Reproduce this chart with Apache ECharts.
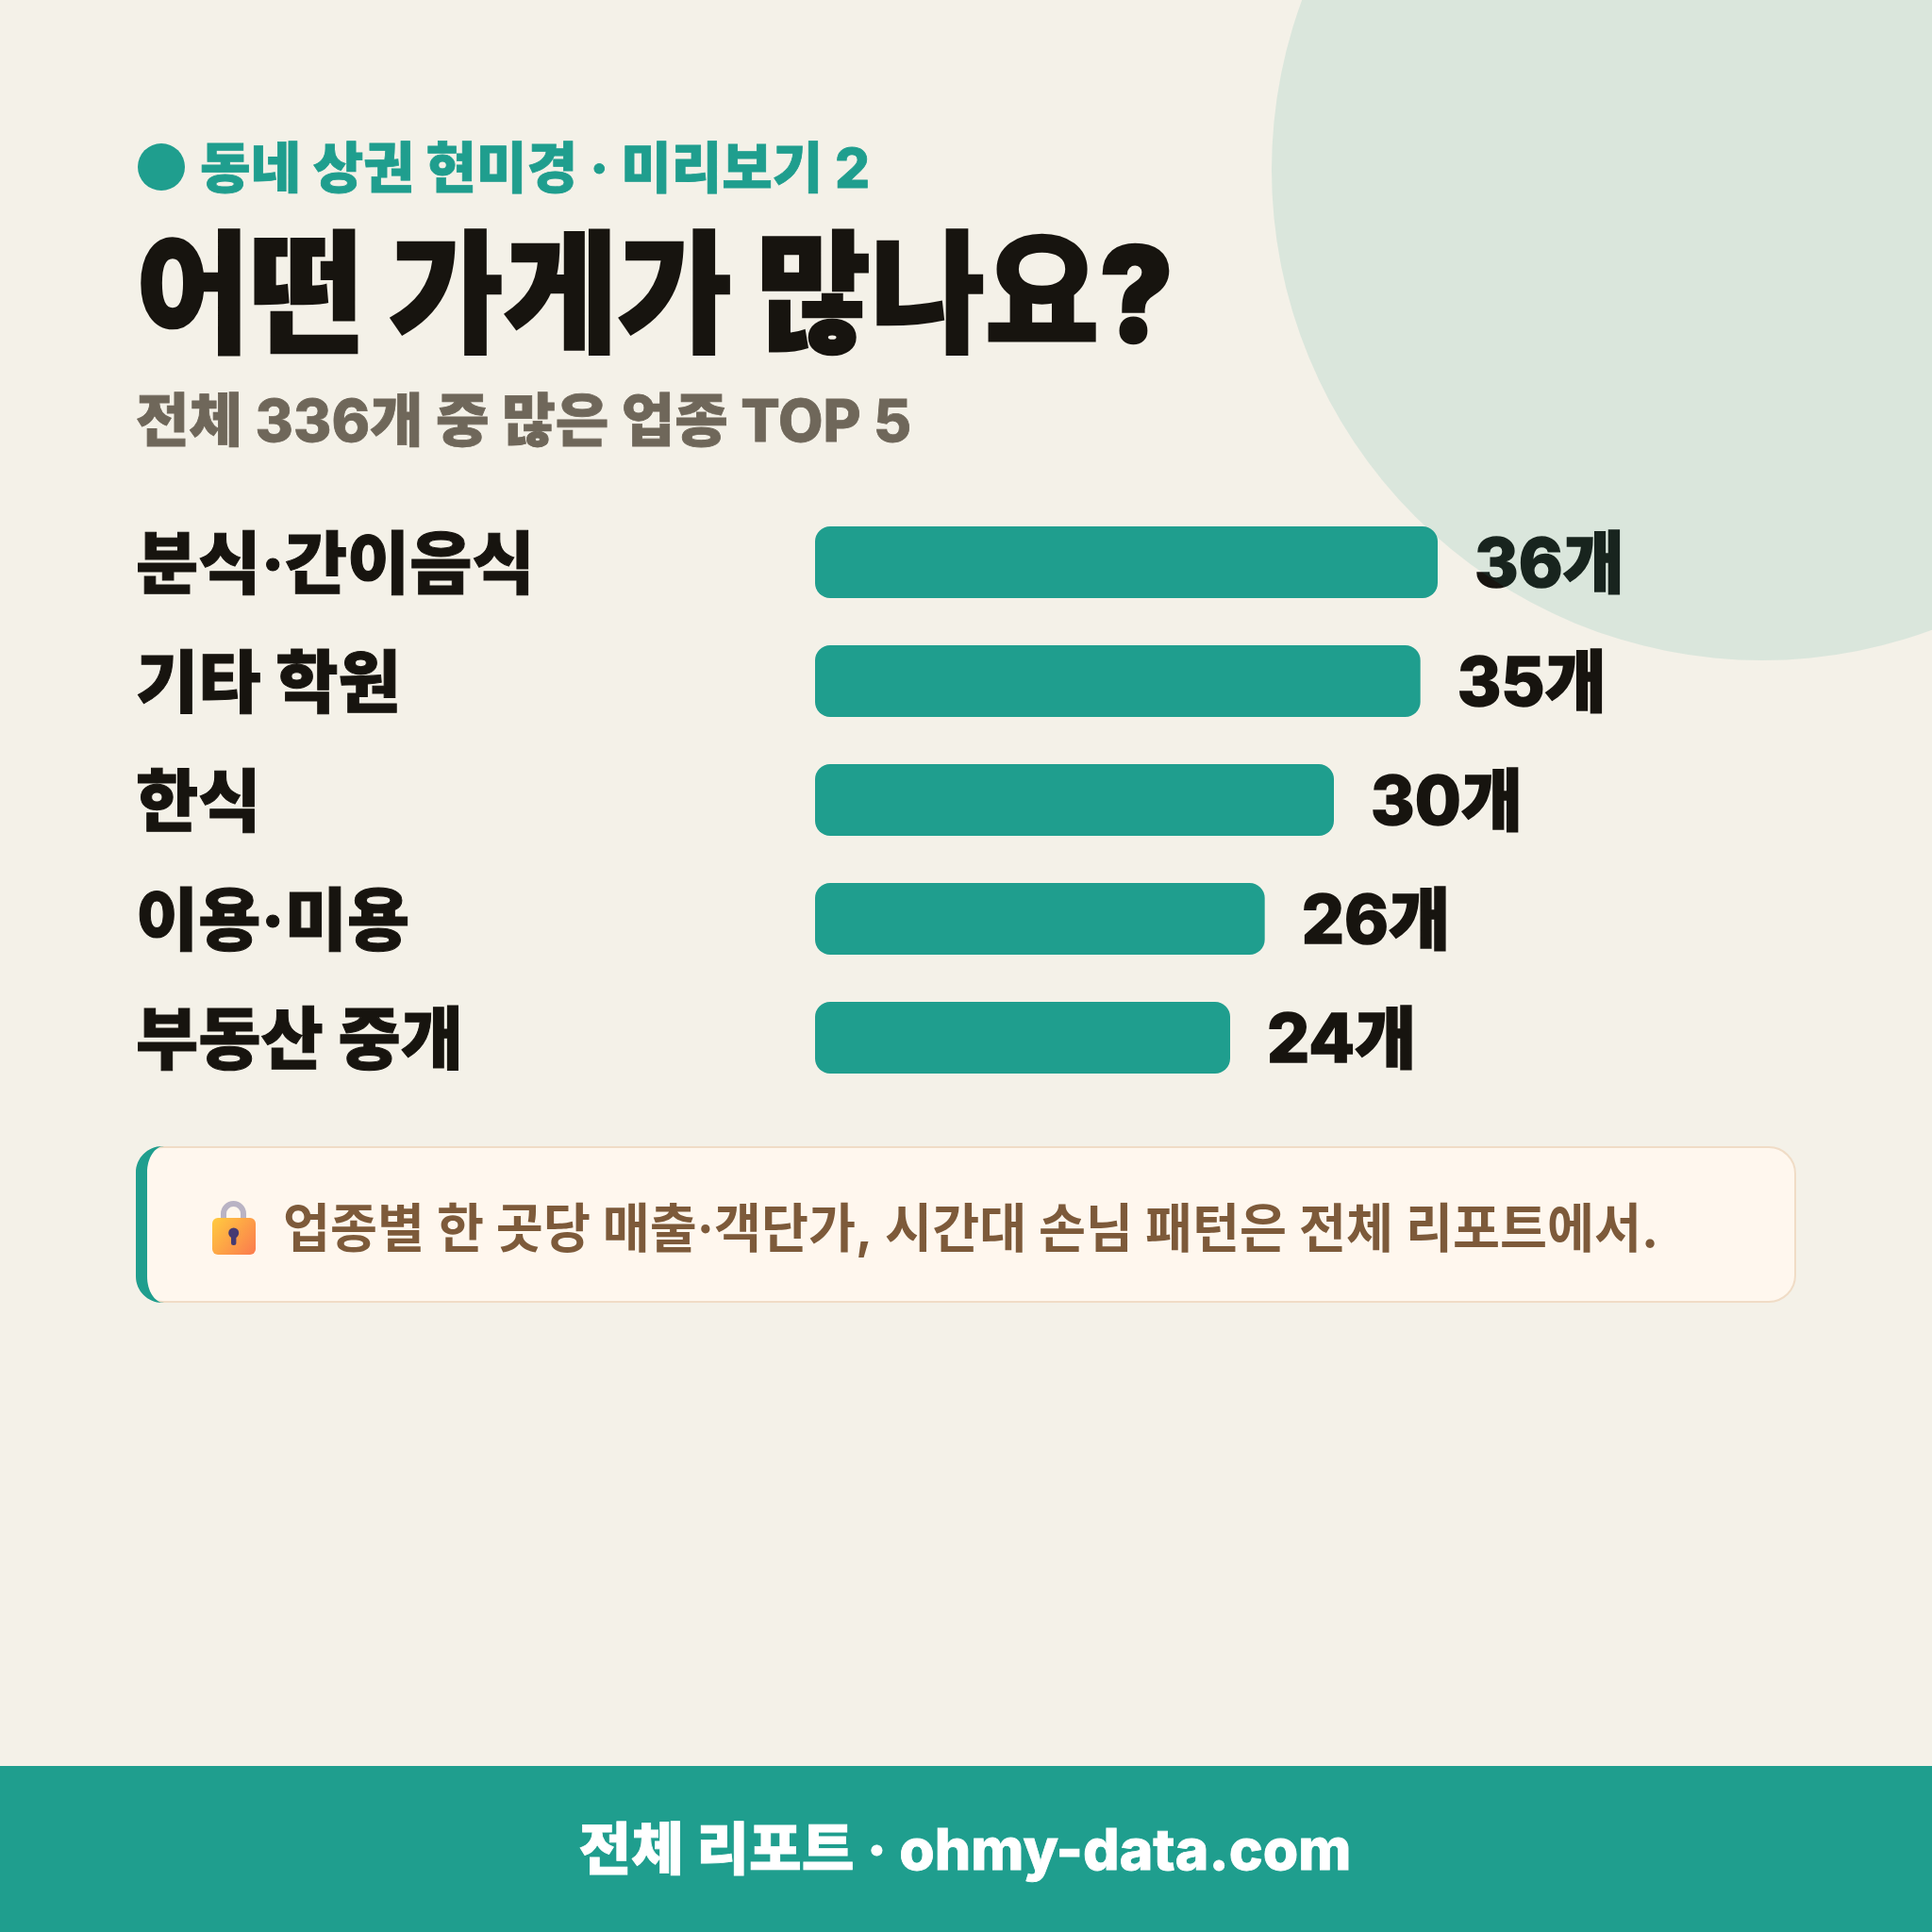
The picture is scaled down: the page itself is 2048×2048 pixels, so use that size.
<!DOCTYPE html>
<html><head><meta charset="utf-8">
<style>html,body{margin:0;padding:0;background:#f4f1e8}#c{width:2048px;height:2048px}</style>
<script src="https://cdn.jsdelivr.net/npm/echarts@6/dist/echarts.min.js"></script>
</head><body><div id="c"></div>
<script>
const categories=['분식·간이음식','기타 학원','한식','이용·미용','부동산 중개'];
const counts=[36,35,30,26,24];
const eyebrow='동네 상권 현미경 · 미리보기 2';
const heading='어떤 가게가 많나요?';
const subheading='전체 336개 중 많은 업종 TOP 5';
const note='업종별 한 곳당 매출·객단가, 시간대 손님 패턴은 전체 리포트에서.';
const footer='전체 리포트 · ohmy-data.com';
const FONT='Inter,"Noto Sans CJK KR",sans-serif';
const teal='#1f9e8e';
const ink='#17140f';
const muted='#6f675a';

// Curved accent along the left edge of the callout card
echarts.graphic.registerShape('cardAccent',echarts.graphic.extendShape({
 shape:{x:144,y:1215,h:166,r:28,inset:12,tip:18},
 buildPath(ctx,s){
  const {x,y,h,r,inset,tip}=s,k=0.5523,b=y+h;
  ctx.moveTo(x+r,y);
  ctx.bezierCurveTo(x+r*(1-k),y,x,y+r*(1-k),x,y+r);
  ctx.lineTo(x,b-r);
  ctx.bezierCurveTo(x,b-r*(1-k),x+r*(1-k),b,x+r,b);
  ctx.lineTo(x+inset+tip,b);
  ctx.bezierCurveTo(x+inset+tip*(1-k),b,x+inset,b-r*(1-k),x+inset,b-r);
  ctx.lineTo(x+inset,y+r);
  ctx.bezierCurveTo(x+inset,y+r*(1-k),x+inset+tip*(1-k),y,x+inset+tip,y);
  ctx.closePath();
 }
}));

const chart=echarts.init(document.getElementById('c'),null,{renderer:'canvas'});
chart.setOption({
 backgroundColor:'#f4f1e8',animation:false,
 grid:{left:864,top:533,width:733.33,height:630,containLabel:false},
 xAxis:{type:'value',min:0,max:40,show:false},
 yAxis:{type:'category',inverse:true,data:categories,axisLine:{show:false},axisTick:{show:false},
  axisLabel:{margin:720,align:'left',formatter:v=>'{name|'+v+'}',
   rich:{name:{color:ink,fontSize:72,fontWeight:800,fontFamily:FONT,padding:[10,0,0,0],textBorderColor:ink,textBorderWidth:1}}}},
 series:[{type:'bar',data:counts,barWidth:76,itemStyle:{color:teal,borderRadius:16},z:3,
  label:{show:true,position:'right',distance:39,offset:[0,5],formatter:p=>p.value+'개',fontSize:71,fontWeight:800,color:ink,fontFamily:FONT,textBorderColor:ink,textBorderWidth:1.5}}],
 graphic:[
  // soft disc laid over the top-right corner, tinting whatever sits beneath it
  {type:'circle',z:100,silent:true,shape:{cx:1868,cy:180,r:520},style:{fill:'rgba(31,158,142,0.12)'}},
  {type:'circle',shape:{cx:171,cy:177,r:25},style:{fill:teal}},
  {type:'text',x:212,y:182,style:{text:eyebrow,fill:teal,stroke:teal,lineWidth:0.8,font:'800 58.2px '+FONT,verticalAlign:'middle'}},
  {type:'text',x:144,y:320,scaleX:0.94,style:{text:heading,fill:ink,stroke:ink,lineWidth:2.5,font:'900 140px '+FONT,verticalAlign:'middle'}},
  {type:'text',x:144,y:450,style:{text:subheading,fill:muted,stroke:muted,lineWidth:0.8,font:'800 61.5px '+FONT,verticalAlign:'middle'}},
  {type:'rect',shape:{x:145,y:1216,width:1758,height:164,r:28},style:{fill:'#fff7ee',stroke:'#f0dcc6',lineWidth:2}},
  {type:'cardAccent',style:{fill:teal}},
  // padlock icon
  {type:'arc',shape:{cx:247.5,cy:1286.5,r:10.5,startAngle:Math.PI,endAngle:0,clockwise:true},style:{fill:'none',stroke:'#b9b3c4',lineWidth:6}},
  {type:'rect',shape:{x:234,y:1286,width:6,height:7},style:{fill:'#b9b3c4'}},
  {type:'rect',shape:{x:255,y:1286,width:6,height:7},style:{fill:'#b9b3c4'}},
  {type:'rect',shape:{x:225,y:1291,width:46,height:39,r:6},style:{fill:new echarts.graphic.LinearGradient(0,0,1,1,[{offset:0,color:'#ffcb3f'},{offset:1,color:'#fb7a4e'}])}},
  {type:'circle',shape:{cx:247.7,cy:1307,r:5.5},style:{fill:'#463a72'}},
  {type:'rect',shape:{x:245,y:1308,width:5.4,height:12,r:2.5},style:{fill:'#463a72'}},
  {type:'text',x:300,y:1305,scaleX:0.971,style:{text:note,fill:'#7d5a3a',font:'700 56px '+FONT,verticalAlign:'middle'}},
  {type:'rect',shape:{x:0,y:1872,width:2048,height:176},style:{fill:teal}},
  {type:'text',x:1023,y:1964,style:{text:footer,fill:'#fff',stroke:'#fff',lineWidth:0.8,font:'800 60.6px '+FONT,align:'center',verticalAlign:'middle'}}
 ]
});
</script></body></html>
